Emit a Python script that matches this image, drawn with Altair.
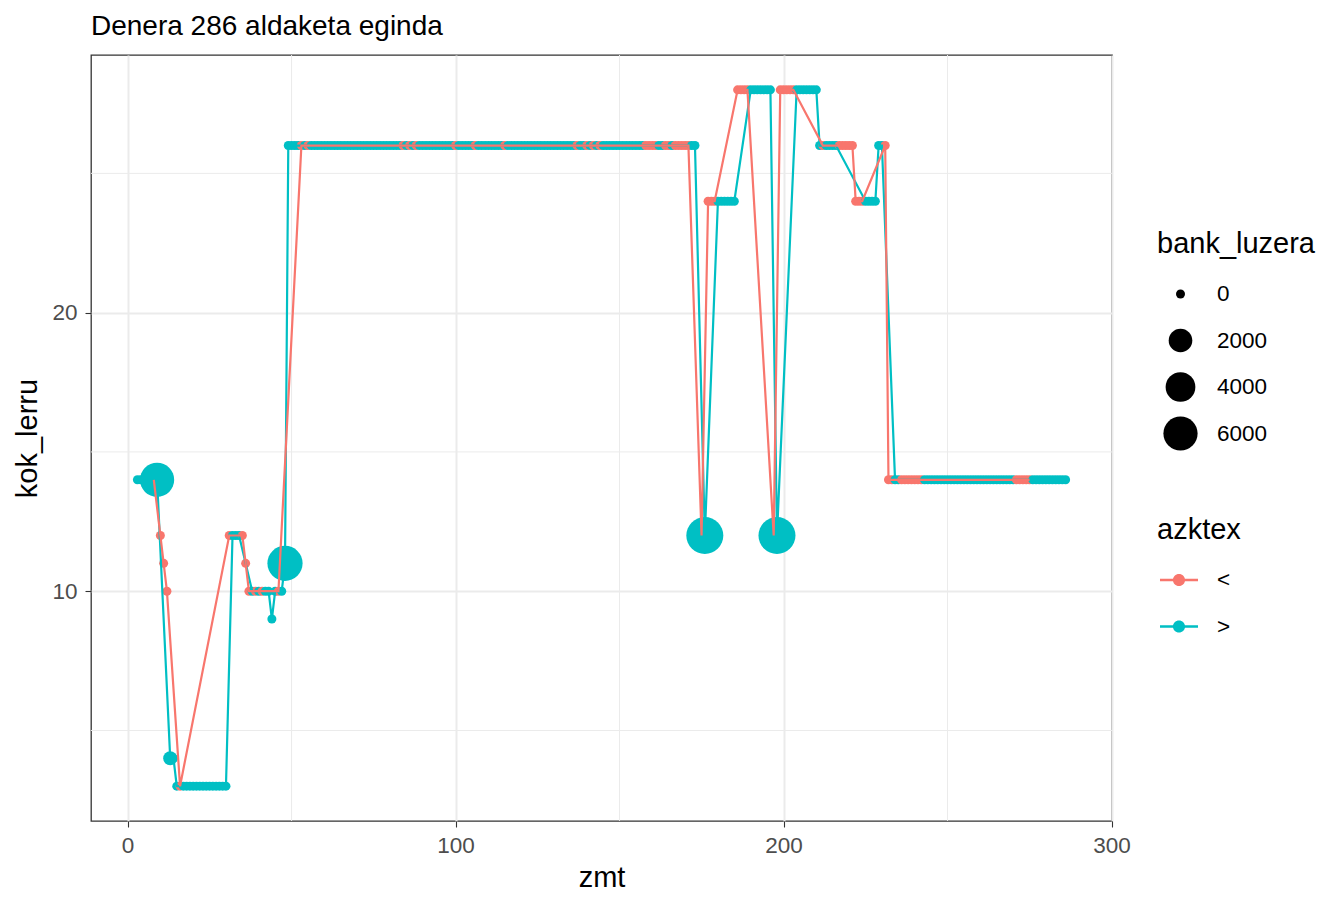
import altair as alt
import pandas as pd

# ---- series "<" (azktex) ----
red_zmt = [8, 10, 11, 12, 16, 31, 35, 36, 37, 39, 41, 46,
           53, 55, 84, 86, 88, 100, 106, 115, 137, 140, 142, 144, 158, 159, 160, 161, 164, 165, 167, 168, 169, 170, 171,
           175, 177, 178, 179, 186, 187, 188, 189, 197, 199, 200, 201, 202, 203,
           212, 217, 218, 219, 220, 221, 222, 223, 224, 231,
           232, 233, 236, 237, 238, 239, 240, 241, 242, 271, 272, 273, 274, 275]
red_kok_lerru = [14, 12, 11, 10, 3, 12, 12, 11, 10, 10, 10, 10,
                 26, 26, 26, 26, 26, 26, 26, 26, 26, 26, 26, 26, 26, 26, 26, 26, 26, 26, 26, 26, 26, 26, 26,
                 12, 24, 24, 24, 28, 28, 28, 28, 12, 28, 28, 28, 28, 28,
                 26, 26, 26, 26, 26, 26, 24, 24, 24, 26,
                 14, 14, 14, 14, 14, 14, 14, 14, 14, 14, 14, 14, 14, 14]
red_bank_luzera = [0, 0, 0, 0, 0, 0, 0, 0, 0, 0, 0, 0,
                   0, 0, 0, 0, 0, 0, 0, 0, 0, 0, 0, 0, 0, 0, 0, 0, 0, 0, 0, 0, 0, 0, 0,
                   0, 0, 0, 0, 0, 0, 0, 0, 0, 0, 0, 0, 0, 0,
                   0, 0, 0, 0, 0, 0, 0, 0, 0, 0,
                   0, 0, 0, 0, 0, 0, 0, 0, 0, 0, 0, 0, 0, 0]

# ---- series ">" (azktex) ----
teal_zmt = [3, 4, 9, 13, 14, 15, 17, 18, 19, 20, 21, 22, 23, 24, 25, 26, 27, 28, 29, 30,
            32, 33, 34, 38, 40, 42, 43, 44, 45, 47, 48,
            49, 50, 51, 52, 54, 56, 57, 58, 59, 60, 61, 62, 63, 64, 65, 66, 67,
            68, 69, 70, 71, 72, 73, 74, 75, 76, 77, 78, 79, 80, 81, 82, 83, 85,
            87, 89, 90, 91, 92, 93, 94, 95, 96, 97, 98, 99, 101, 102, 103, 104, 105,
            107, 108, 109, 110, 111, 112, 113, 114, 116, 117, 118, 119, 120, 121, 122, 123, 124,
            125, 126, 127, 128, 129, 130, 131, 132, 133, 134, 135, 136, 138, 139, 141, 143, 145,
            146, 147, 148, 149, 150, 151, 152, 153, 154, 155, 156, 157, 162, 163, 166, 172, 173,
            176, 180, 181, 182, 183, 184, 185, 190, 191, 192, 193, 194, 195, 196, 198,
            204, 205, 206, 207, 208, 209, 210, 211, 213, 214, 215, 216, 225, 226, 227, 228, 229, 230,
            234, 235, 243, 244, 245, 246, 247, 248, 249, 250, 251, 252, 253, 254, 255, 256, 257,
            258, 259, 260, 261, 262, 263, 264, 265, 266, 267, 268, 269, 270,
            276, 277, 278, 279, 280, 281, 282, 283, 284, 285, 286]
teal_kok_lerru = [14, 14, 14, 4, 4, 3, 3, 3, 3, 3, 3, 3, 3, 3, 3, 3, 3, 3, 3, 3,
                  12, 12, 12, 10, 10, 10, 10, 9, 10, 10, 11,
                  26, 26, 26, 26, 26, 26, 26, 26, 26, 26, 26, 26, 26, 26, 26, 26, 26,
                  26, 26, 26, 26, 26, 26, 26, 26, 26, 26, 26, 26, 26, 26, 26, 26, 26,
                  26, 26, 26, 26, 26, 26, 26, 26, 26, 26, 26, 26, 26, 26, 26, 26, 26,
                  26, 26, 26, 26, 26, 26, 26, 26, 26, 26, 26, 26, 26, 26, 26, 26, 26,
                  26, 26, 26, 26, 26, 26, 26, 26, 26, 26, 26, 26, 26, 26, 26, 26, 26,
                  26, 26, 26, 26, 26, 26, 26, 26, 26, 26, 26, 26, 26, 26, 26, 26, 26,
                  12, 24, 24, 24, 24, 24, 24, 28, 28, 28, 28, 28, 28, 28, 12,
                  28, 28, 28, 28, 28, 28, 28, 26, 26, 26, 26, 26, 24, 24, 24, 24, 26, 26,
                  14, 14, 14, 14, 14, 14, 14, 14, 14, 14, 14, 14, 14, 14, 14, 14, 14,
                  14, 14, 14, 14, 14, 14, 14, 14, 14, 14, 14, 14, 14,
                  14, 14, 14, 14, 14, 14, 14, 14, 14, 14, 14]
teal_bank_luzera = [0, 0, 6000, 300, 0, 0, 0, 0, 0, 0, 0, 0, 0, 0, 0, 0, 0, 0, 0, 0,
                    0, 0, 0, 0, 0, 0, 0, 0, 0, 0, 6500,
                    0, 0, 0, 0, 0, 0, 0, 0, 0, 0, 0, 0, 0, 0, 0, 0, 0,
                    0, 0, 0, 0, 0, 0, 0, 0, 0, 0, 0, 0, 0, 0, 0, 0, 0,
                    0, 0, 0, 0, 0, 0, 0, 0, 0, 0, 0, 0, 0, 0, 0, 0, 0,
                    0, 0, 0, 0, 0, 0, 0, 0, 0, 0, 0, 0, 0, 0, 0, 0, 0,
                    0, 0, 0, 0, 0, 0, 0, 0, 0, 0, 0, 0, 0, 0, 0, 0, 0,
                    0, 0, 0, 0, 0, 0, 0, 0, 0, 0, 0, 0, 0, 0, 0, 0, 0,
                    7500, 0, 0, 0, 0, 0, 0, 0, 0, 0, 0, 0, 0, 0, 7500,
                    0, 0, 0, 0, 0, 0, 0, 0, 0, 0, 0, 0, 0, 0, 0, 0, 0, 0,
                    0, 0, 0, 0, 0, 0, 0, 0, 0, 0, 0, 0, 0, 0, 0, 0, 0,
                    0, 0, 0, 0, 0, 0, 0, 0, 0, 0, 0, 0, 0,
                    0, 0, 0, 0, 0, 0, 0, 0, 0, 0, 0]

assert len(red_zmt) == len(red_kok_lerru) == len(red_bank_luzera)
assert len(teal_zmt) == len(teal_kok_lerru) == len(teal_bank_luzera)

groups = ["<", ">"]
group_colors = ["#F8766D", "#00BFC4"]
x_major = [0, 100, 200, 300]
x_minor = [50, 150, 250]
y_major = [10, 20]
y_minor = [5, 15, 25]
size_breaks = [0, 2000, 4000, 6000]

red = pd.DataFrame({"zmt": red_zmt, "kok_lerru": red_kok_lerru,
                    "bank_luzera": red_bank_luzera, "azktex": groups[0]})
teal = pd.DataFrame({"zmt": teal_zmt, "kok_lerru": teal_kok_lerru,
                     "bank_luzera": teal_bank_luzera, "azktex": groups[1]})
df = pd.concat([red, teal]).sort_values("zmt", kind="stable").reset_index(drop=True)

FONT = "Liberation Sans"
GRID = "#EBEBEB"
LAB = 22.5
TIT = 29
xscale = alt.Scale(domain=[-11.15, 300.15], nice=False, zero=False)
yscale = alt.Scale(domain=[1.75, 29.25], nice=False, zero=False)

x_axis = alt.Axis(values=x_major, title="zmt", grid=True, gridColor=GRID, gridWidth=2,
                  domain=False, tickColor="#333333", tickSize=6, tickWidth=1.1,
                  labelFontSize=LAB, labelColor="#4D4D4D", labelPadding=7,
                  labelFlush=False, labelOverlap=False, labelBound=False,
                  titleFontSize=TIT, titleFontWeight="normal", titleColor="black", titlePadding=7)
y_axis = alt.Axis(values=y_major, title="kok_lerru", grid=True, gridColor=GRID, gridWidth=2,
                  domain=False, tickColor="#333333", tickSize=6, tickWidth=1.1,
                  labelFontSize=LAB, labelColor="#4D4D4D", labelPadding=8,
                  labelFlush=False, labelOverlap=False, labelBound=False,
                  titleFontSize=TIT, titleFontWeight="normal", titleColor="black", titlePadding=9)

minor_x = alt.Chart(pd.DataFrame({"zmt": x_minor})).mark_rule(color=GRID, strokeWidth=1).encode(
    x=alt.X("zmt:Q", scale=xscale, axis=x_axis))
minor_y = alt.Chart(pd.DataFrame({"kok_lerru": y_minor})).mark_rule(color=GRID, strokeWidth=1).encode(
    y=alt.Y("kok_lerru:Q", scale=yscale, axis=y_axis))

line_symbol = ("M-1,-0.07H1V0.07H-1Z "
               "M0.32,0A0.32,0.32,0,1,1,-0.32,0A0.32,0.32,0,1,1,0.32,0Z")

color_scale = alt.Scale(domain=groups, range=group_colors)

points = alt.Chart(df).mark_circle(opacity=1).encode(
    x=alt.X("zmt:Q", scale=xscale, axis=x_axis),
    y=alt.Y("kok_lerru:Q", scale=yscale, axis=y_axis),
    color=alt.Color("azktex:N", scale=color_scale,
                    legend=alt.Legend(title="azktex", orient="none", legendX=1066, legendY=461,
                                      clipHeight=36, rowPadding=10.5, symbolType=line_symbol,
                                      symbolSize=1444, symbolOffset=3, labelOffset=19,
                                      symbolStrokeWidth=0, symbolOpacity=1, titlePadding=17, padding=0)),
    size=alt.Size("bank_luzera:Q",
                  scale=alt.Scale(type="pow", exponent=0.75, domain=[0, 7500], range=[81, 1369]),
                  legend=alt.Legend(title="bank_luzera", values=size_breaks, format="d", orient="none",
                                    legendX=1066, legendY=175, clipHeight=36, rowPadding=10.5,
                                    symbolOffset=6, labelOffset=19, symbolFillColor="black",
                                    symbolStrokeWidth=0, symbolOpacity=1, titlePadding=17, padding=0)),
)

lines = alt.Chart(df).mark_line(strokeWidth=2.2).encode(
    x=alt.X("zmt:Q", scale=xscale, axis=x_axis),
    y=alt.Y("kok_lerru:Q", scale=yscale, axis=y_axis),
    color=alt.Color("azktex:N", scale=color_scale, legend=None),
)

chart = alt.layer(minor_x, minor_y, points, lines).properties(
    width=1021, height=766,
    padding={"left": 83, "top": 47, "right": 215, "bottom": 80},
    autosize=alt.AutoSizeParams(type="none"),
    title=alt.TitleParams("Denera 286 aldaketa eginda", anchor="start", frame="group",
                          fontSize=28, font=FONT, fontWeight="normal", color="black", offset=14),
).configure_view(stroke="#333333", strokeWidth=1.3).configure_axis(
    labelFont=FONT, titleFont=FONT
).configure_legend(
    labelFont=FONT, titleFont=FONT, titleFontSize=TIT, titleFontWeight="normal", titleColor="black",
    labelFontSize=LAB, labelColor="black"
)

chart.save("out.html", embed_options={"renderer": "svg", "actions": False})
